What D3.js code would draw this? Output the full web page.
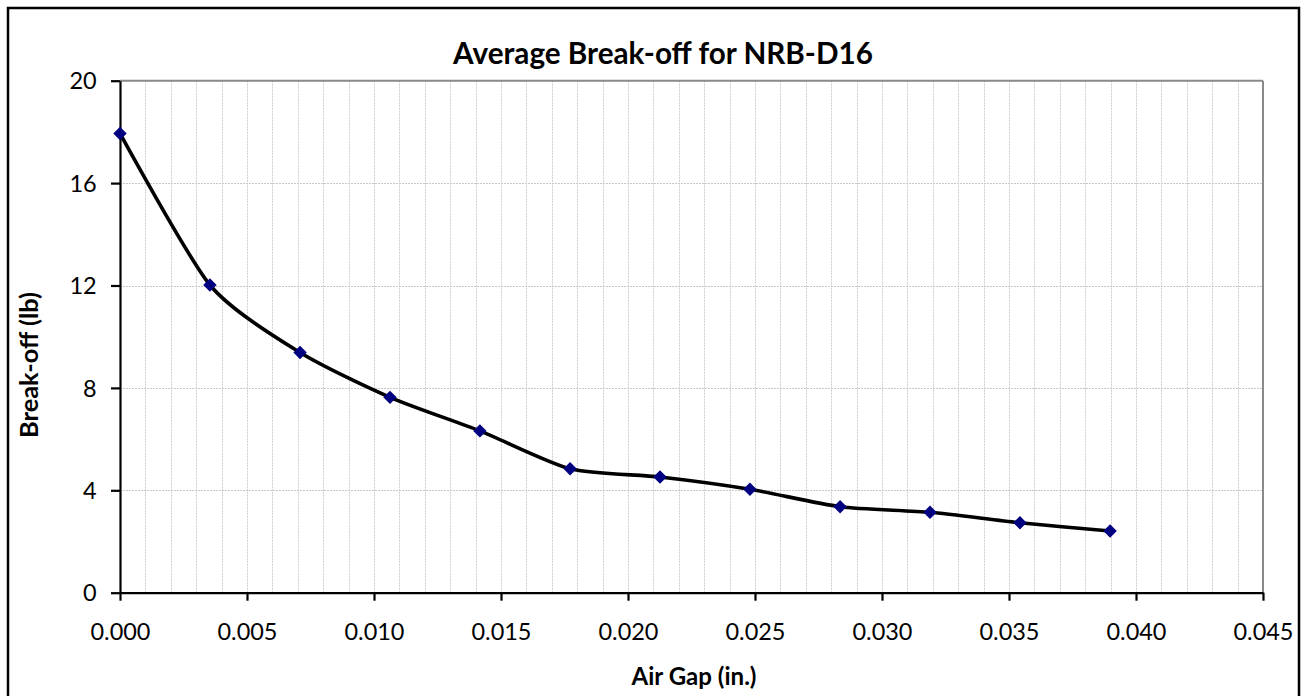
<!DOCTYPE html>
<html>
<head>
<meta charset="utf-8">
<script src="https://cdn.jsdelivr.net/npm/d3@7"></script>
<style>
  html, body { margin: 0; padding: 0; background: #fff; }
  svg { display: block; }
  text { font-family: Lato, "Open Sans", "DejaVu Sans", sans-serif; fill: #000; }
</style>
</head>
<body>
<svg id="chart" width="1302" height="696"></svg>
<script>
// ---- data ----
const airGap = [0, 0.00354, 0.00709, 0.01063, 0.01417, 0.01772, 0.02126, 0.0248, 0.02835, 0.03189, 0.03543, 0.03898];
const breakOff = [17.94, 12.02, 9.38, 7.63, 6.32, 4.84, 4.52, 4.04, 3.36, 3.14, 2.73, 2.41];
const xTickValues = [0, 0.005, 0.010, 0.015, 0.020, 0.025, 0.030, 0.035, 0.040, 0.045];
const yTickValues = [0, 4, 8, 12, 16, 20];
const titleText = "Average Break-off for NRB-D16";
const xTitleText = "Air Gap (in.)";
const yTitleText = "Break-off (lb)";

// ---- layout ----
const svg = d3.select("#chart");
const plot = { left: 120, right: 1263, top: 80.7, bottom: 592.7 };

const x = d3.scaleLinear().domain([0, 0.045]).range([plot.left, plot.right]);
const y = d3.scaleLinear().domain([0, 20]).range([plot.bottom, plot.top]);

function fitWidth(sel, target) {
  sel.style("font-size", "20px");
  const w = sel.node().getComputedTextLength();
  const fs = 20 * target / w;
  sel.style("font-size", fs + "px");
  return fs;
}

// outer border
svg.append("rect")
  .attr("x", 8).attr("y", 8).attr("width", 1291).attr("height", 700)
  .attr("fill", "#fff").attr("stroke", "#000").attr("stroke-width", 2.5);

// vertical minor gridlines every 0.001
const minorX = d3.range(1, 45).map(i => i * 0.001);
svg.append("g").selectAll("line").data(minorX).join("line")
  .attr("x1", d => Math.round(x(d)) + 0.5).attr("x2", d => Math.round(x(d)) + 0.5)
  .attr("y1", plot.top).attr("y2", plot.bottom)
  .attr("stroke", "#cfcfcf").attr("stroke-width", 1).attr("stroke-dasharray", "2,1");

// horizontal gridlines
svg.append("g").selectAll("line").data(yTickValues.filter(v => v > 0 && v < 20)).join("line")
  .attr("x1", plot.left).attr("x2", plot.right)
  .attr("y1", d => Math.round(y(d)) + 0.5).attr("y2", d => Math.round(y(d)) + 0.5)
  .attr("stroke", "#c8c8c8").attr("stroke-width", 1).attr("stroke-dasharray", "2,1");

// top and right plot borders (gray)
svg.append("line").attr("x1", plot.left).attr("x2", plot.right).attr("y1", plot.top).attr("y2", plot.top)
  .attr("stroke", "#8a8a8a").attr("stroke-width", 2);
svg.append("line").attr("x1", plot.right).attr("x2", plot.right).attr("y1", plot.top).attr("y2", plot.bottom)
  .attr("stroke", "#8a8a8a").attr("stroke-width", 2);

// axes
const xAxis = d3.axisBottom(x).tickValues(xTickValues).tickFormat(d3.format(".3f")).tickSize(8).tickSizeOuter(0);
const yAxis = d3.axisLeft(y).tickValues(yTickValues).tickFormat(d3.format("d")).tickSize(9).tickSizeOuter(0);

const gx = svg.append("g").attr("transform", `translate(0,${plot.bottom})`).call(xAxis);
const gy = svg.append("g").attr("transform", `translate(${plot.left},0)`).call(yAxis);

[gx, gy].forEach(g => {
  g.select(".domain").attr("stroke", "#000").attr("stroke-width", 2.2);
  g.selectAll(".tick line").attr("stroke", "#000").attr("stroke-width", 2.2);
  g.selectAll(".tick text").attr("font-family", null).style("fill", "#000");
});

// fit tick font size to reference width
const firstX = gx.select(".tick text");
const tickFs = fitWidth(firstX, 60);
gx.selectAll(".tick text").style("font-size", tickFs + "px").attr("dy", null).attr("y", 47)
  .attr("dominant-baseline", "auto");
gy.selectAll(".tick text").style("font-size", tickFs + "px").attr("x", -23.3).attr("dy", "0.35em");

// line (smoothed)
const pts = airGap.map((d, i) => [d, breakOff[i]]);
const line = d3.line().x(d => x(d[0])).y(d => y(d[1])).curve(d3.curveCardinal.tension(0.3));
svg.append("path").datum(pts)
  .attr("d", line).attr("fill", "none").attr("stroke", "#000")
  .attr("stroke-width", 3.6).attr("stroke-linejoin", "round").attr("stroke-linecap", "round");

// markers (diamonds)
const diamond = d3.symbol().type(d3.symbolSquare).size(90);
svg.append("g").selectAll("path").data(pts).join("path")
  .attr("d", diamond)
  .attr("transform", d => `translate(${x(d[0])},${y(d[1])}) rotate(45)`)
  .attr("fill", "#000080");

// titles
const title = svg.append("text").attr("x", 663).attr("y", 63.5)
  .attr("text-anchor", "middle").attr("font-weight", "bold").text(titleText);
fitWidth(title, 420);

const xTitle = svg.append("text").attr("x", 694).attr("y", 685)
  .attr("text-anchor", "middle").attr("font-weight", "bold").text(xTitleText);
fitWidth(xTitle, 125);

const yTitle = svg.append("text")
  .attr("transform", "translate(38,365) rotate(-90)")
  .attr("text-anchor", "middle").attr("font-weight", "bold").text(yTitleText);
fitWidth(yTitle, 146);
</script>
</body>
</html>
